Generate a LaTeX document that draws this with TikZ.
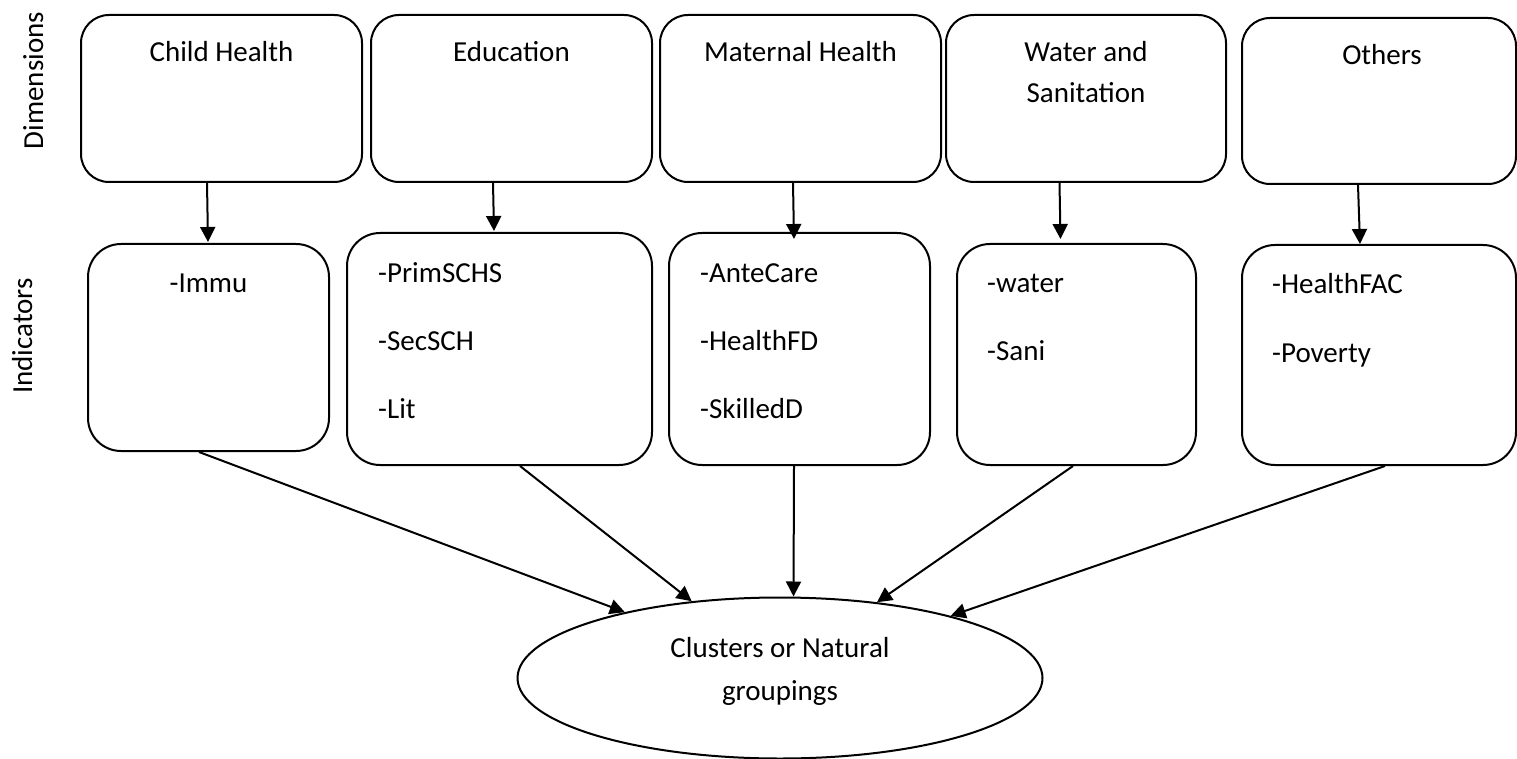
\documentclass[tikz,border=0pt]{standalone}
\usepackage{fontspec}
\setmainfont{Carlito}
\usetikzlibrary{arrows.meta,shapes.geometric,calc}
\begin{document}
\begin{tikzpicture}[x=1pt,y=-1pt,
  dimbox/.style={draw,line width=2pt,rounded corners=28pt,minimum height=167pt,inner sep=0pt},
  indbox/.style={draw,line width=2pt,rounded corners=33pt,inner sep=0pt},
  lbl/.style={font=\fontsize{29}{35}\selectfont,inner sep=0pt,anchor=base},
  lbll/.style={lbl,anchor=base west},
  arr/.style={line width=2pt,-{Triangle[length=15pt,width=15pt]}},
]
\useasboundingbox (0,0) rectangle (1517,759);

% dimension boxes
\node[dimbox,minimum width=281pt] (d1) at (221.5,98.5) {};
\node[dimbox,minimum width=281pt] (d2) at (511.5,98.5) {};
\node[dimbox,minimum width=281pt] (d3) at (800.5,98.5) {};
\node[dimbox,minimum width=280pt] (d4) at (1086,98.5) {};
\node[dimbox,minimum width=274pt,minimum height=166pt] (d5) at (1379,101) {};

\node[lbl] (t1) at (221.5,62) {Child Health};
\node[lbl] (t2) at (511.5,62) {Education};
\node[lbl] (t3) at (800.5,62) {Maternal Health};
\node[lbl] (t4a) at (1086,62) {Water and};
\node[lbl] (t4b) at (1086,103) {Sanitation};
\node[lbl] (t5) at (1382,65) {Others};

% side labels
\node[lbl,rotate=90] (sd) at (43,80.5) {Dimensions};
\node[lbl,rotate=90] (si) at (32,336) {Indicators};

% indicator boxes
\node[indbox,minimum width=241pt,minimum height=207pt] (i1) at (208.5,347.5) {};
\node[indbox,minimum width=305pt,minimum height=232pt] (i2) at (499.5,349) {};
\node[indbox,minimum width=261pt,minimum height=232pt] (i3) at (799.5,349) {};
\node[indbox,minimum width=239pt,minimum height=221pt] (i4) at (1076.5,354.5) {};
\node[indbox,minimum width=274pt,minimum height=220pt] (i5) at (1379,355) {};

\node[lbl] (x1) at (208.5,292) {-Immu};
\node[lbll] (x2a) at (378,282) {-PrimSCHS};
\node[lbll] (x2b) at (378,350) {-SecSCH};
\node[lbll] (x2c) at (378,418) {-Lit};
\node[lbll] (x3a) at (700,282) {-AnteCare};
\node[lbll] (x3b) at (700,350) {-HealthFD};
\node[lbll] (x3c) at (700,418) {-SkilledD};
\node[lbll] (x4a) at (987,292) {-water};
\node[lbll] (x4b) at (987,360) {-Sani};
\node[lbll] (x5a) at (1272,294) {-HealthFAC};
\node[lbll] (x5b) at (1272,362) {-Poverty};

% cluster ellipse
\node[draw,ellipse,line width=2pt,minimum width=525pt,minimum height=161pt,inner sep=0pt] (cl) at (780,678) {};
\node[lbl] (c1) at (780,657) {Clusters or Natural};
\node[lbl] (c2) at (780,700) {groupings};

% arrows dimension -> indicators
\draw[arr] ([xshift=-14.5pt]d1.south) -- ([xshift=-0.5pt,yshift=1pt]i1.north);
\draw[arr] ([xshift=-18.5pt]d2.south) -- ([xshift=-5.5pt,yshift=1pt]i2.north);
\draw[arr] ([xshift=-7.5pt]d3.south) -- ([xshift=-5.5pt,yshift=-7pt]i3.north);
\draw[arr] ([xshift=-26.5pt]d4.south) -- ([xshift=-16pt,yshift=4pt]i4.north);
\draw[arr] ([xshift=-21pt]d5.south) -- ([xshift=-19pt]i5.north);

% arrows indicators -> clusters
\draw[arr] ([xshift=-9.5pt]i1.south) -- (cl.157);
\draw[arr] ([xshift=20.5pt]i2.south) -- (cl.139);
\draw[arr] ([xshift=-5.5pt]i3.south) -- ([xshift=13.5pt]cl.north);
\draw[arr] ([xshift=-3.5pt]i4.south) -- (cl.38);
\draw[arr] ([xshift=6pt]i5.south) -- (cl.20);
\end{tikzpicture}
\end{document}
